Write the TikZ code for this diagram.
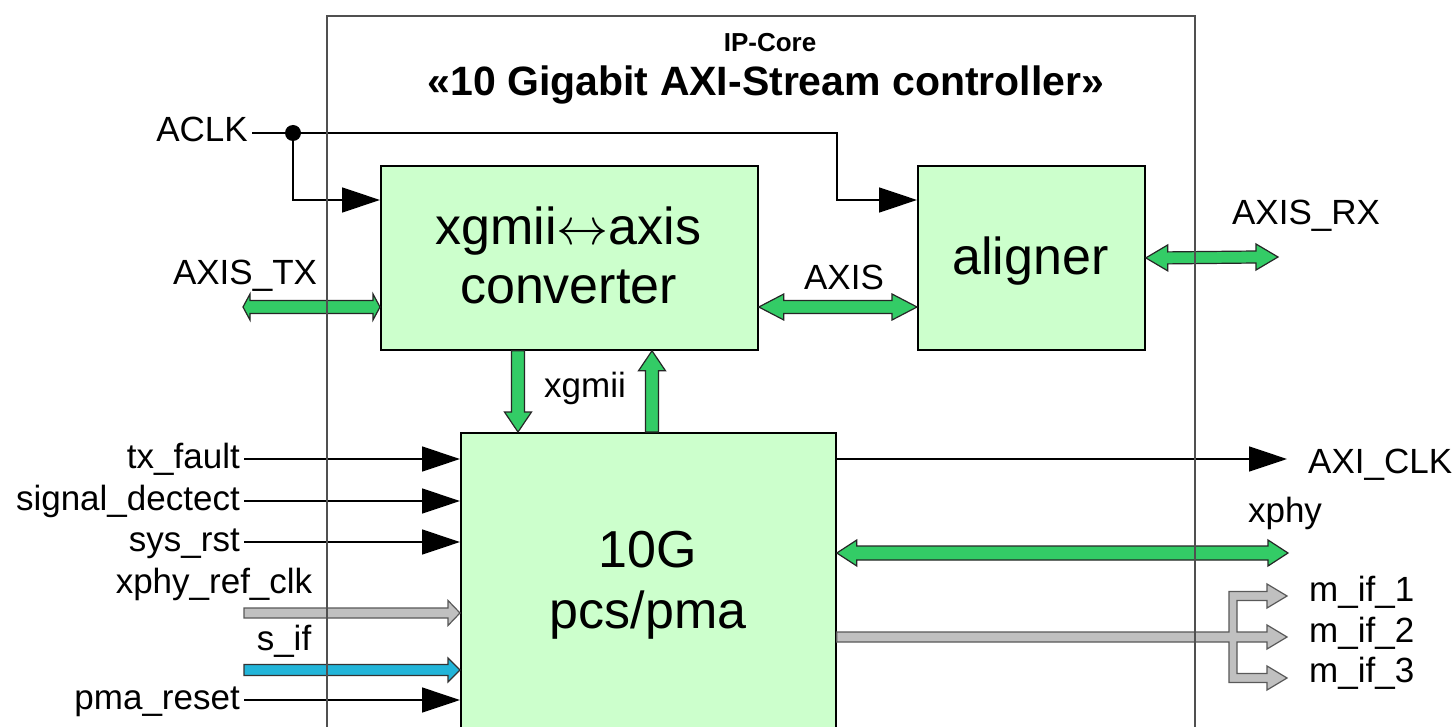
\documentclass[tikz,border=0pt]{standalone}
\usepackage{graphicx}
\usepackage{fontspec}
\setmainfont{Liberation Sans}
\usetikzlibrary{arrows.meta,calc}
\definecolor{boxgreen}{HTML}{CCFFCC}
\definecolor{argreen}{HTML}{33CC66}
\definecolor{arblue}{HTML}{22B5D9}
\definecolor{argray}{HTML}{C0C0C0}
\definecolor{outerc}{HTML}{505050}
% horizontal double arrow: #1 left tip, #2 right tip, #3 half body, #4 half head, #5 head length, #6 style
\newcommand\hdarrow[6]{\draw[#6] (#1) -- ($(#1)+(#5,-#4)$) -- ($(#1)+(#5,-#3)$) -- ($(#2)+(-#5,-#3)$) -- ($(#2)+(-#5,-#4)$) -- (#2) -- ($(#2)+(-#5,#4)$) -- ($(#2)+(-#5,#3)$) -- ($(#1)+(#5,#3)$) -- ($(#1)+(#5,#4)$) -- cycle;}
% horizontal single arrow: #1 tail, #2 tip
\newcommand\hsarrow[6]{\draw[#6] ($(#1)+(0,-#3)$) -- ($(#2)+(-#5,-#3)$) -- ($(#2)+(-#5,-#4)$) -- (#2) -- ($(#2)+(-#5,#4)$) -- ($(#2)+(-#5,#3)$) -- ($(#1)+(0,#3)$) -- cycle;}
% vertical single arrow: #1 tail, #2 tip, #6 head offset (negative for down, positive for up)
\newcommand\vsarrow[7]{\draw[#7] ($(#1)+(-#3,0)$) -- ($(#2)+(-#3,#6)$) -- ($(#2)+(-#4,#6)$) -- (#2) -- ($(#2)+(#4,#6)$) -- ($(#2)+(#3,#6)$) -- ($(#1)+(#3,0)$) -- cycle;}
\begin{document}
\begin{tikzpicture}[x=1pt,y=-1pt,
  box/.style={draw=black, line width=1.8pt, fill=boxgreen, inner sep=0pt, anchor=north west},
  lbl/.style={font=\fontsize{35}{40}\selectfont, inner sep=0pt},
  inlbl/.style={lbl, text height=18pt, text depth=0pt, inner xsep=4pt, inner ysep=0pt, anchor=east},
  big/.style={font=\fontsize{52}{60}\selectfont, inner sep=0pt, anchor=base},
  sig/.style={line width=1.3pt, -{Triangle[length=38pt,width=25pt]}},
  greenar/.style={draw=black!85, line width=1.2pt, fill=argreen},
  grayar/.style={draw=black!65, line width=1.2pt, fill=argray},
  bluear/.style={draw=black!80, line width=1.2pt, fill=arblue},
  outer/.style={draw=outerc, line width=1.3pt}]
\useasboundingbox (0,0) rectangle (1456,727);
\fill[white] (0,0) rectangle (1456,727);

% blocks
\node[box, minimum width=377pt, minimum height=184pt] (conv) at (380,165) {};
\node[box, minimum width=227pt, minimum height=184pt] (align) at (917,165) {};
\node[box, minimum width=375pt, minimum height=320pt] (pcs) at (460,432) {};

\node[big] (convt1) at (568.5,245) {xgmii\resizebox{52pt}{!}{$\leftrightarrow$}axis};
\node[big] (convt2) at (568.5,303) {converter};
\node[big] (alignt) at (1030.5,275) {aligner};
\node[big] (pcst1) at (648,567) {10G};
\node[big] (pcst2) at (648,628) {pcs/pma};

% titles
\node[font=\bfseries\fontsize{26}{30}\selectfont, anchor=base, inner sep=0pt] (ipc) at (770,52) {IP-Core};
\node[font=\bfseries\fontsize{41}{48}\selectfont, anchor=base, inner sep=0pt] (title) at (766,96) {«10 Gigabit AXI-Stream controller»};

% left signal labels
\node[inlbl] (aclk) at (252,133) {ACLK};
\node[inlbl] (txf) at (244,459) {tx\_fault};
\node[inlbl] (sigd) at (244,501) {signal\_dectect};
\node[inlbl] (srst) at (244,542) {sys\_rst};
\node[inlbl] (pmar) at (244,700) {pma\_reset};

% other labels
\node[lbl, anchor=base] (axistx) at (245,285) {AXIS\_TX};
\node[lbl, anchor=base] (axis) at (844,290) {AXIS};
\node[lbl, anchor=base] (axisrx) at (1306,225) {AXIS\_RX};
\node[lbl, anchor=base] (xgm) at (585,397) {xgmii};
\node[lbl, anchor=base] (xphy) at (1285,522) {xphy};
\node[lbl, anchor=base] (xref) at (214,593) {xphy\_ref\_clk};
\node[lbl, anchor=base] (sif) at (284,650) {s\_if};
\node[lbl, anchor=base west] (axiclk) at (1308,473) {AXI\_CLK};
\node[lbl, anchor=base west] (mif1) at (1309,601) {m\_if\_1};
\node[lbl, anchor=base west] (mif2) at (1309,642) {m\_if\_2};
\node[lbl, anchor=base west] (mif3) at (1309,682) {m\_if\_3};

% thin signals
\draw[sig] (txf.east) -- (txf.east -| pcs.west);
\draw[sig] (sigd.east) -- (sigd.east -| pcs.west);
\draw[sig] (srst.east) -- (srst.east -| pcs.west);
\draw[sig] (pmar.east) -- (pmar.east -| pcs.west);
\coordinate (acT) at (1287,459);
\draw[sig] (pcs.east |- txf.east) -- (acT);

\coordinate (dot) at (293,133);
\draw[sig] (aclk.east) -- (837,133) -- (837,200) -- (align.west |- 0,200);
\draw[sig] (dot) |- (conv.west |- 0,200);
\fill (dot) circle (8pt);

% green buses
\coordinate (txL) at (243,307);
\coordinate (txR) at (conv.west |- 0,307);
\hdarrow{txL}{txR}{6.5}{13}{7}{greenar}
\coordinate (axL) at (conv.east |- 0,307);
\coordinate (axR) at (align.west |- 0,307);
\hdarrow{axL}{axR}{6.5}{13}{25}{greenar}
\coordinate (rxR) at (1278,257);
\hdarrow{align.east}{rxR}{6}{13}{22}{greenar}
\coordinate (xpL) at (pcs.east |- 0,553);
\coordinate (xpR) at (1288,553);
\hdarrow{xpL}{xpR}{7}{13}{20}{greenar}
\coordinate (gdS) at (518,0 |- conv.south);
\coordinate (gdT) at (518,0 |- pcs.north);
\vsarrow{gdS}{gdT}{6.5}{13.5}{20}{-20}{greenar}
\coordinate (guS) at (652,0 |- pcs.north);
\coordinate (guT) at (652,0 |- conv.south);
\vsarrow{guS}{guT}{6.5}{13.5}{20}{20}{greenar}

% gray and blue inputs
\coordinate (rcS) at (244,613);
\coordinate (rcT) at (pcs.west |- 0,613);
\hsarrow{rcS}{rcT}{5}{12.5}{12}{grayar}
\coordinate (siS) at (244,670);
\coordinate (siT) at (pcs.west |- 0,670);
\hsarrow{siS}{siT}{5.5}{12}{12}{bluear}

% gray output bus
\draw[grayar] (pcs.east |- 0,632) -- (1229,632) -- (1229,591.5) -- (1267,591.5) -- (1267,584) -- (1287,596) -- (1267,608) -- (1267,600.5) -- (1237,600.5) -- (1237,632) -- (1267,632) -- (1267,625) -- (1287,637) -- (1267,649) -- (1267,642) -- (1237,642) -- (1237,673.5) -- (1267,673.5) -- (1267,666) -- (1287,678) -- (1267,690) -- (1267,682.5) -- (1229,682.5) -- (1229,642) -- (pcs.east |- 0,642) -- cycle;

% IP core frame
\draw[outer] (327,760) -- (327,16) -- (1195,16) -- (1195,760);
\end{tikzpicture}
\end{document}
